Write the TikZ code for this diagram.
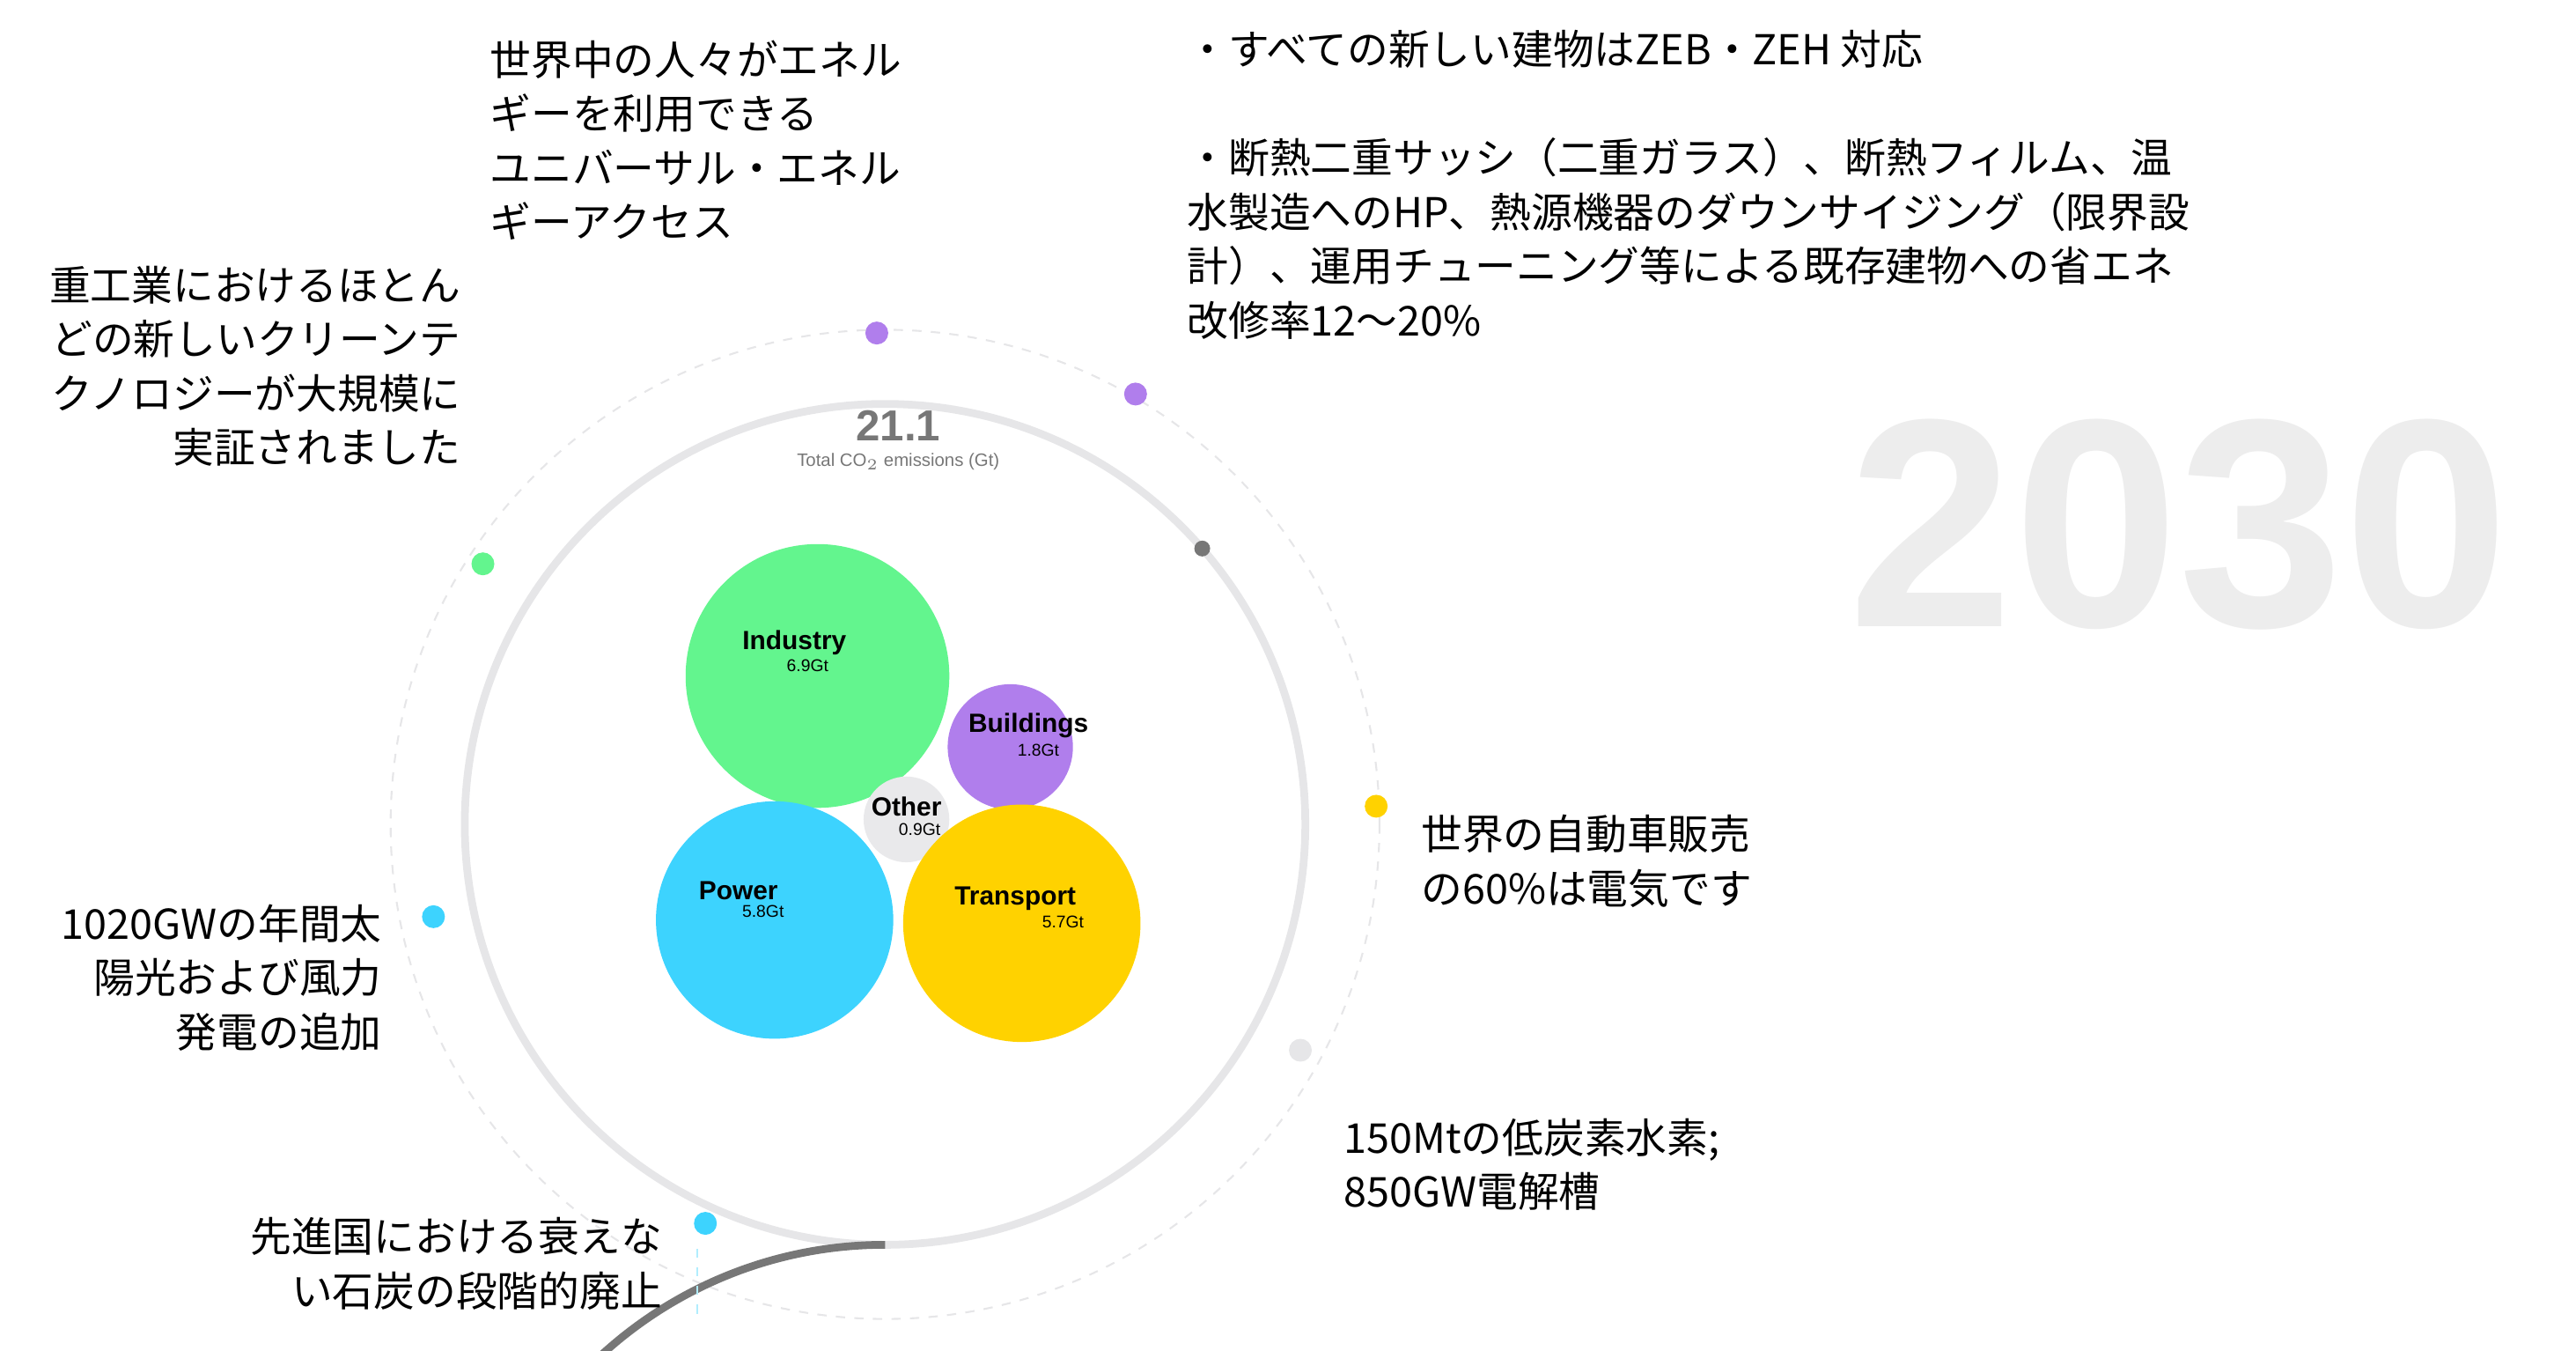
\documentclass[tikz,border=0pt]{standalone}
\usepackage{fontspec}
\setmainfont{Noto Sans CJK JP}
\newfontfamily\numfont{Liberation Sans}
\definecolor{indgreen}{HTML}{63F58E}
\definecolor{bldpurple}{HTML}{B07EEC}
\definecolor{pwrcyan}{HTML}{3DD3FE}
\definecolor{trnyellow}{HTML}{FFD200}
\definecolor{othgrey}{HTML}{E9E9EB}
\definecolor{ringdark}{HTML}{777777}
\definecolor{ringlight}{HTML}{E6E6E8}
\tikzset{
  jtext/.style={font=\fontsize{13.3}{17.5}\selectfont,inner sep=0pt,align=left,anchor=north west},
  jtextr/.style={jtext,align=right,anchor=north east},
  bubble/.style={circle,inner sep=0pt},
  lbl/.style={font=\numfont\bfseries\fontsize{8.5}{9}\selectfont,inner sep=0pt},
  sub/.style={font=\numfont\fontsize{5.5}{6}\selectfont,inner sep=0pt},
  dot/.style={circle,inner sep=0pt,minimum size=0.26cm},
}
\begin{document}
\begin{tikzpicture}[x=0.01872cm,y=-0.01872cm]
              \useasboundingbox (0,0) rectangle (1563,819);
              %rings
              \coordinate (c) at (537,500);
              \path[draw,ringlight,dashed,line width=0.6pt] (c) circle (300);
              \path[draw,ringlight,line width=2.5pt] (c) circle (255);
              \path[draw,ringdark,line width=2.5pt] ([shift={(90:255)}]537,500) arc[start angle=-90,end angle=-319,radius=255];
              \node[circle,fill=ringdark,inner sep=0pt,minimum size=0.18cm] (end) at ([shift={(-41:255)}]537,500) {};
              %milestone dots
              \node[dot,fill=bldpurple] (d1) at (532,202) {};
              \node[dot,fill=bldpurple] (d2) at (689,239) {};
              \node[dot,fill=indgreen] (d3) at (293,342) {};
              \node[dot,fill=trnyellow] (d4) at (835,489) {};
              \node[dot,fill=ringlight] (d5) at (789,637) {};
              \node[dot,fill=pwrcyan] (d6) at (263,556) {};
              \node[dot,fill=pwrcyan] (d7) at (428,742) {};
              \path[draw,pwrcyan!40,dashed,line width=0.6pt] (d7.south) ++(-5,8) -- ++(0,42);
              %bubbles
              \node[bubble,fill=indgreen,minimum size=160*0.01872cm] (ind) at (496,410) {};
              \node[bubble,fill=bldpurple,minimum size=76*0.01872cm] (bld) at (613,453) {};
              \node[bubble,fill=othgrey,minimum size=52*0.01872cm] (oth) at (550,497) {};
              \node[bubble,fill=pwrcyan,minimum size=144*0.01872cm] (pwr) at (470,558) {};
              \node[bubble,fill=trnyellow,minimum size=144*0.01872cm] (trn) at (620,560) {};
              \node[lbl] (indl) at (482,390) {Industry};
              \node[sub] at (490,404) {6.9Gt};
              \node[lbl] (bldl) at (624,440) {Buildings};
              \node[sub] at (630,455) {1.8Gt};
              \node[lbl] (othl) at (550,489) {Other};
              \node[sub] at (558,503) {0.9Gt};
              \node[lbl] (pwrl) at (448,540) {Power};
              \node[sub] at (463,553) {5.8Gt};
              \node[lbl] (trnl) at (616,545) {Transport};
              \node[sub] at (645,559) {5.7Gt};
              %total
              \node[font=\numfont\bfseries\fontsize{14}{14}\selectfont,text=ringdark,inner sep=0pt] (tot) at (545,258) {21.1};
              \node[font=\numfont\fontsize{5.8}{6}\selectfont,text=ringdark,inner sep=0pt] (totl) at (545,280) {Total CO$_2$ emissions (Gt)};
              \node[font=\numfont\bfseries\fontsize{96}{96}\selectfont,text=black!7,inner sep=0pt] (year) at (1322,318) {2030};
              %texts
              \node[jtext] (t1) at (297,24) {世界中の人々がエネル\\ギーを利用できる\\ユニバーサル・エネル\\ギーアクセス};
              \node[jtext] (t2) at (720,18) {・すべての新しい建物はZEB・ZEH 対応\\[17.5pt]・断熱二重サッシ（二重ガラス）、断熱フィルム、温\\水製造へのHP、熱源機器のダウンサイジング（限界設\\計）、運用チューニング等による既存建物への省エネ\\改修率12～20\%};
              \node[jtextr] (t3) at (280,161) {重工業におけるほとん\\どの新しいクリーンテ\\クノロジーが大規模に\\実証されました};
              \node[jtext] (t4) at (862,494) {世界の自動車販売\\の60\%は電気です};
              \node[jtextr] (t5) at (232,548) {1020GWの年間太\\陽光および風力\\発電の追加};
              \node[jtext] (t6) at (815,678) {150Mtの低炭素水素;\\850GW電解槽};
              \node[jtextr] (t7) at (402,738) {先進国における衰えな\\い石炭の段階的廃止};
            \end{tikzpicture}
\end{document}
